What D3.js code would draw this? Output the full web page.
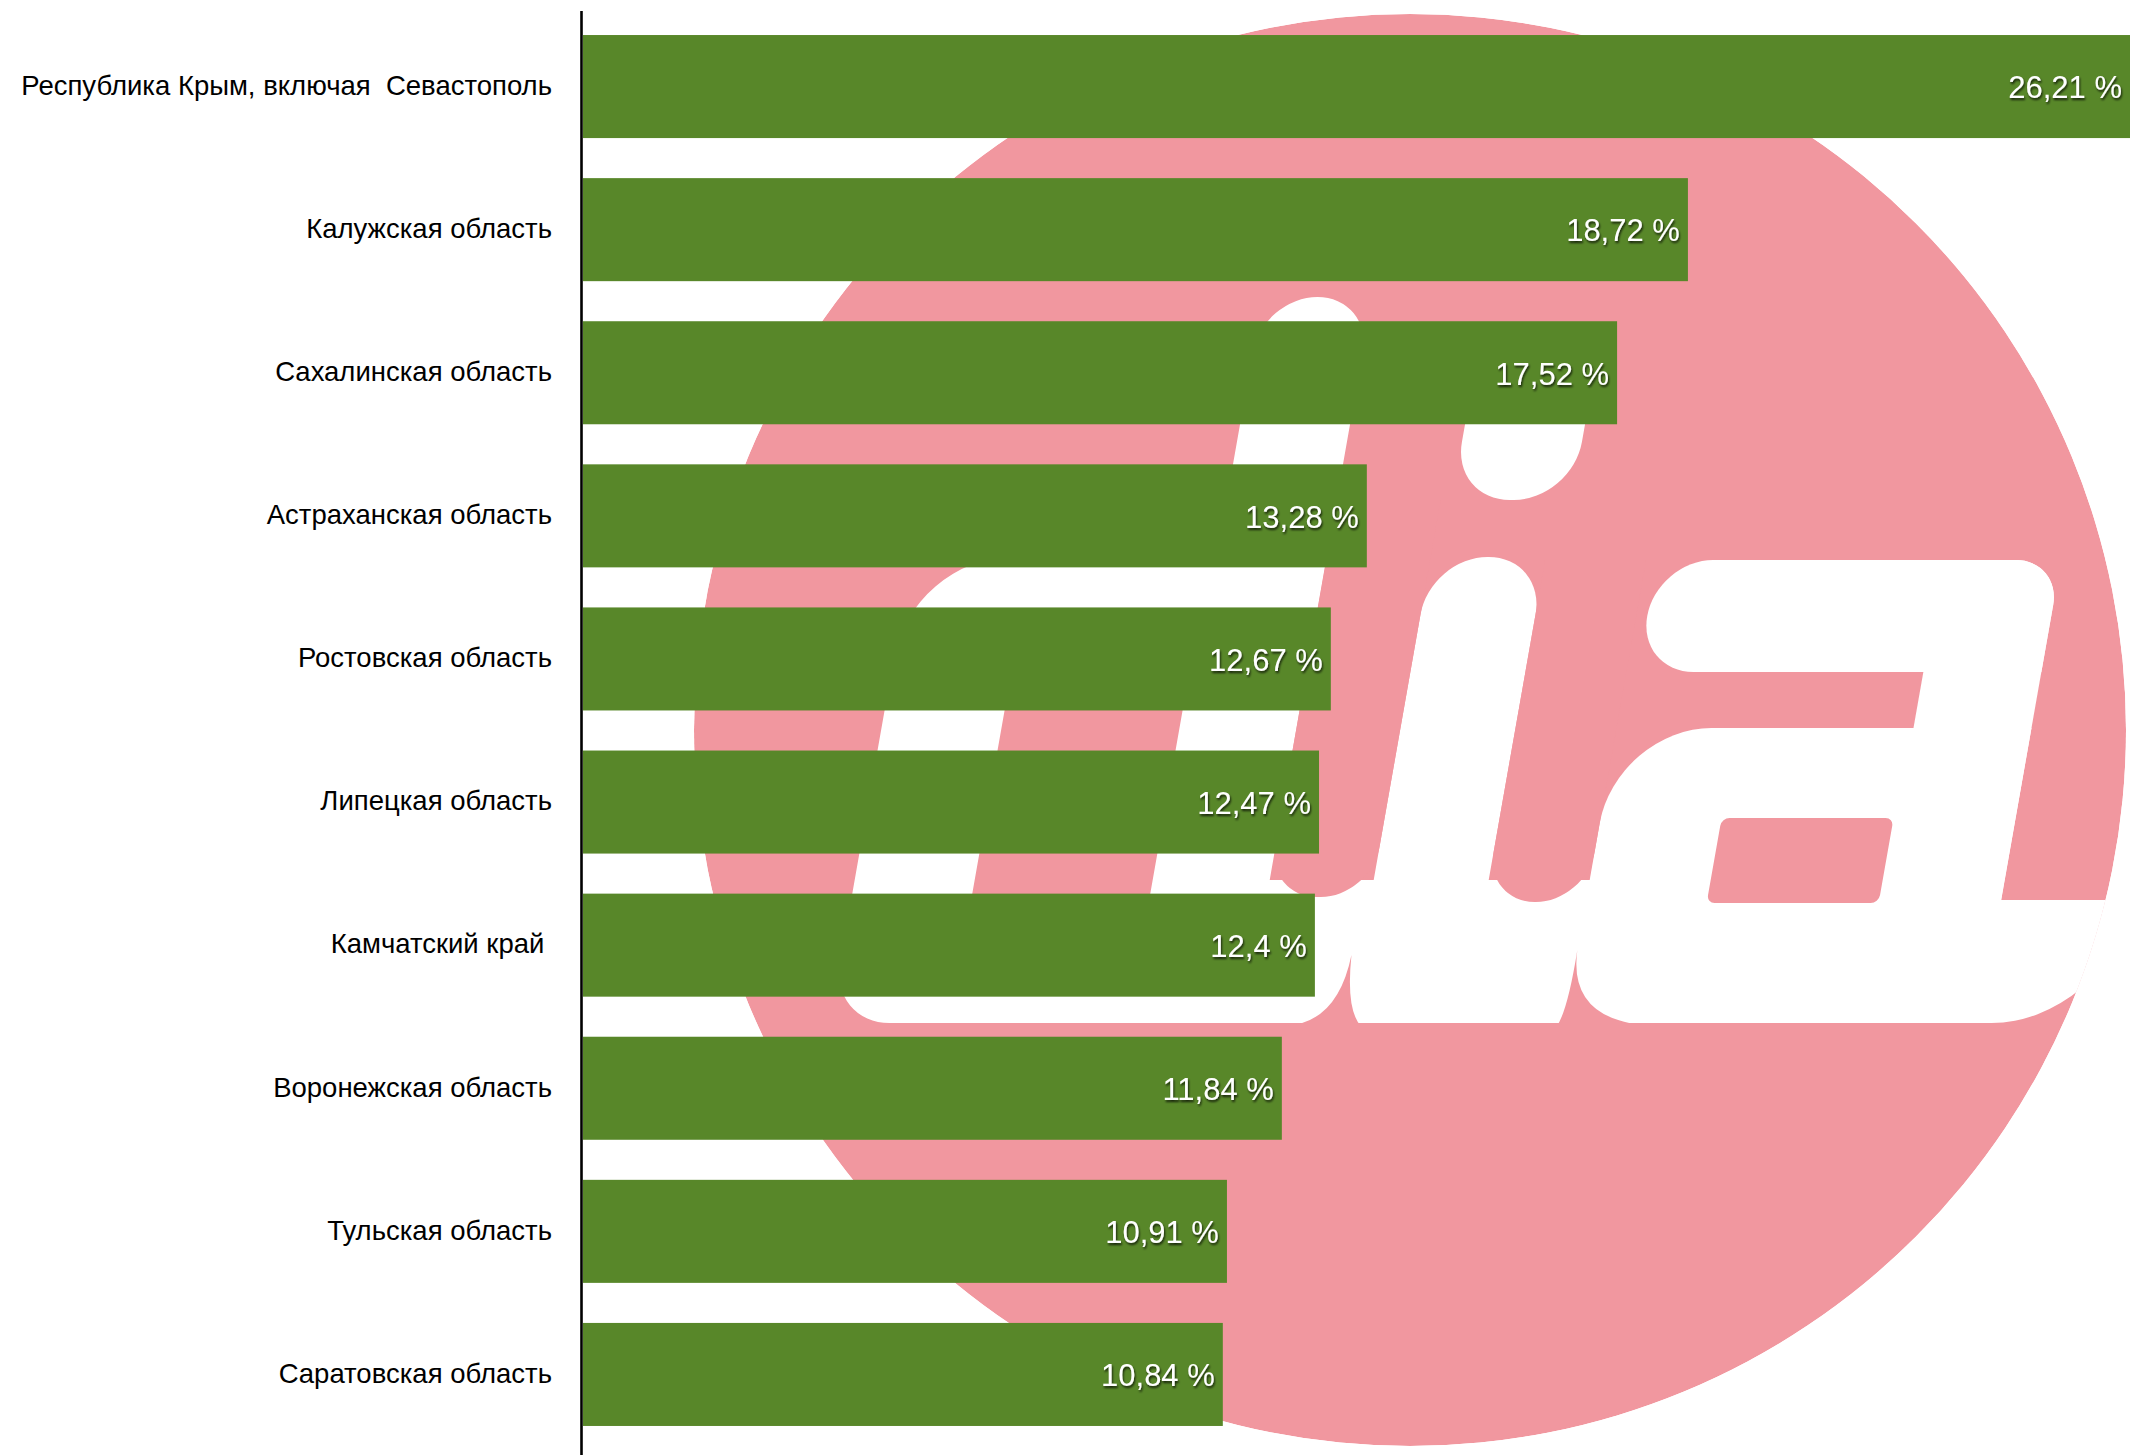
<!DOCTYPE html>
<html>
<head>
<meta charset="utf-8">
<script src="https://cdn.jsdelivr.net/npm/d3@7"></script>
<style>
  html, body { margin: 0; padding: 0; background: #fff; }
  svg { display: block; }
</style>
</head>
<body>
<svg id="chart" width="2146" height="1455"></svg>
<script>
// regions, top to bottom (spaces kept as in the source)
const regions = [
    'Республика Крым, включая  Севастополь',
    'Калужская область',
    'Сахалинская область',
    'Астраханская область',
    'Ростовская область',
    'Липецкая область',
    'Камчатский край ',
    'Воронежская область',
    'Тульская область',
    'Саратовская область'
];
const shares = [26.21, 18.72, 17.52, 13.28, 12.67, 12.47, 12.4, 11.84, 10.91, 10.84];

(function () {
    let svg = d3.select('#chart'),
        width = +svg.attr('width'),
        height = +svg.attr('height'),
        margin = {top: 15, right: 16, bottom: 9, left: 583}
    ;
    let data = regions.map((name, i) => ({name: name, value: shares[i]}));

    let x = d3.scaleLinear()
            .domain([0, d3.max(shares)])
            .range([margin.left, width - margin.right]),
        y = d3.scaleBand()
            .domain(regions)
            .range([margin.top, height - margin.bottom])
            .paddingInner(0.28)
            .paddingOuter(0.14)
    ;
    let fmt = v => String(v).replace('.', ',') + ' %';

    let defs = svg.append('defs');
    defs.append('filter')
        .attr('id', 'shadow')
        .attr('x', '-10%').attr('y', '-40%')
        .attr('width', '125%').attr('height', '180%')
        .append('feDropShadow')
        .attr('dx', 1).attr('dy', 2)
        .attr('stdDeviation', 1.3)
        .attr('flood-color', '#000')
        .attr('flood-opacity', 0.75);

    // watermark: pink disc with the white italic logo
    let wm = {cx: 1410, cy: 730, r: 716, base: 290, slant: -10};
    defs.append('clipPath').attr('id', 'disc')
        .append('circle').attr('cx', 0).attr('cy', 0).attr('r', wm.r);

    // rounded rect with per-corner radii [tl, tr, br, bl]
    function box(x0, y0, x1, y1, rr) {
        let [tl, tr, br, bl] = rr || [0, 0, 0, 0];
        return `M${x0 + tl},${y0}H${x1 - tr}` +
            (tr ? `A${tr},${tr} 0 0 1 ${x1},${y0 + tr}` : '') +
            `V${y1 - br}` +
            (br ? `A${br},${br} 0 0 1 ${x1 - br},${y1}` : '') +
            `H${x0 + bl}` +
            (bl ? `A${bl},${bl} 0 0 1 ${x0},${y1 - bl}` : '') +
            `V${y0 + tl}` +
            (tl ? `A${tl},${tl} 0 0 1 ${x0 + tl},${y0}` : '') + 'Z';
    }
    let white = [
        box(-580, -173, -165, 293, [100, 0, 0, 60]),   // d bowl
        box(-275, -433, -165, -30, [55, 55, 0, 0]),    // d ascender
        box(-61, -173, 54, 293, [57, 57, 0, 0]),       // i stem
        box(-50, -380, 70, -230, [58, 58, 58, 58]),    // i dot
        box(166, -170, 570, -58, [56, 45, 0, 56]),     // a top bar
        box(452, -170, 570, 293, [0, 45, 0, 0]),       // a stem
        box(155, -2, 570, 293, [95, 0, 0, 0]),         // a bowl
        box(-245, 150, 490, 293),                      // joined foot
        box(490, 170, 700, 293, [0, 0, 118, 0])        // a tail
    ];
    let pink = [
        box(-460, -105, -282, 232, [45, 45, 45, 45]),  // d counter
        box(-165, -230, -61, 167, [0, 0, 50, 50]),     // gap d-i
        box(54, -170, 155, 172, [0, 0, 50, 50]),       // gap i-a
        box(276, 88, 448, 173, [8, 8, 8, 8]),          // a counter
        'M-125,296Q-72,294 -70,225Q-66,280 -48,296Z',  // notch d-i
        'M148,296Q156,280 155,220Q158,294 250,296Z'    // notch i-a
    ];
    let wmG = svg.append('g')
        .attr('transform', `translate(${wm.cx},${wm.cy})`)
        .attr('clip-path', 'url(#disc)');
    wmG.append('circle').attr('r', wm.r).attr('fill', '#f1979f');
    let glyphs = wmG.append('g')
        .attr('transform', `translate(0,${wm.base}) skewX(${wm.slant}) translate(0,${-wm.base})`);
    glyphs.selectAll('.w').data(white).enter().append('path')
        .attr('class', 'w').attr('d', d => d).attr('fill', '#fff');
    glyphs.selectAll('.p').data(pink).enter().append('path')
        .attr('class', 'p').attr('d', d => d).attr('fill', '#f1979f');

    // bars
    svg.append('g').selectAll('rect')
        .data(data)
        .enter().append('rect')
        .attr('x', x(0))
        .attr('y', d => y(d.name))
        .attr('width', d => x(d.value) - x(0))
        .attr('height', y.bandwidth())
        .attr('fill', '#588729');

    svg.append('g').selectAll('text')
        .data(data)
        .enter().append('text')
        .attr('x', d => x(d.value) - 8)
        .attr('y', d => y(d.name) + y.bandwidth() / 2)
        .attr('dy', '0.38em')
        .attr('text-anchor', 'end')
        .attr('fill', '#fff')
        .attr('filter', 'url(#shadow)')
        .style('font', '31px "Liberation Sans", Arial, Helvetica, sans-serif')
        .text(d => fmt(d.value));

    // category axis
    let axis = svg.append('g')
        .attr('transform', `translate(${x(0)},0)`)
        .call(d3.axisLeft(y).tickSize(0).tickPadding(31));
    axis.select('.domain').remove();
    axis.selectAll('text')
        .attr('fill', '#000')
        .attr('dy', '0.3em')
        .style('white-space', 'pre')
        .style('font', '27.5px "Liberation Sans", Arial, Helvetica, sans-serif');

    svg.append('line')
        .attr('x1', x(0) - 1.5).attr('x2', x(0) - 1.5)
        .attr('y1', y.range()[0] - 4).attr('y2', height)
        .attr('stroke', '#000')
        .attr('stroke-width', 2.6);
}());
</script>
</body>
</html>
